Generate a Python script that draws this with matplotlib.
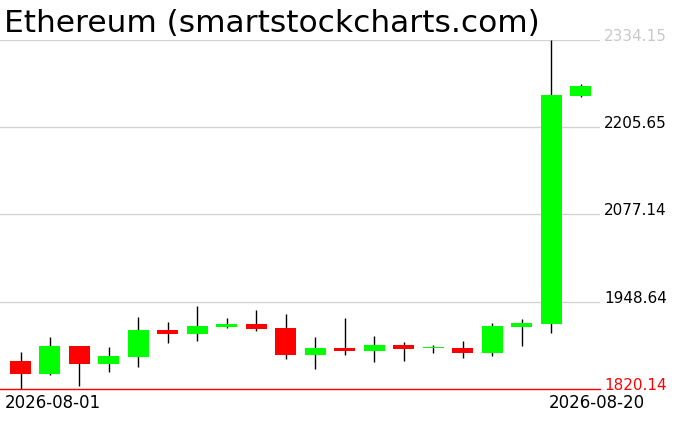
import matplotlib
matplotlib.use('Agg')
import matplotlib.pyplot as plt
import matplotlib.transforms as mtrans
import numpy as np

# ── 数据 ──────────────────────────────────────────────
dates = ['2026-08-%02d' % d for d in range(1, 21)]
opens = [1861.4, 1842.2, 1883.5, 1856.9, 1867.3, 1907.0, 1901.1, 1911.5, 1915.9, 1910.0,
         1870.2, 1880.5, 1876.1, 1884.9, 1879.9, 1880.5, 1873.2, 1911.5, 1915.9, 2251.6]
highs = [1874.6, 1896.7, 1884.0, 1882.0, 1926.2, 1918.8, 1942.4, 1924.7, 1936.5, 1930.6,
         1896.7, 1924.7, 1898.2, 1889.4, 1884.9, 1890.8, 1917.3, 1923.2, 2334.15, 2269.3]
lows = [1820.14, 1840.8, 1824.6, 1845.2, 1852.5, 1887.9, 1890.8, 1910.0, 1905.6, 1864.3,
        1849.6, 1870.2, 1859.9, 1861.4, 1873.2, 1865.8, 1868.7, 1883.5, 1903.1, 2250.2]
closes = [1842.2, 1883.5, 1856.9, 1868.7, 1907.0, 1901.1, 1912.9, 1915.9, 1908.5, 1870.2,
          1880.5, 1876.1, 1884.9, 1879.0, 1880.9, 1873.2, 1912.9, 1917.3, 2253.1, 2266.4]
y_ticks = [1820.14, 1948.64, 2077.14, 2205.65, 2334.15]
y_labels = ['1820.14', '1948.64', '2077.14', '2205.65', '2334.15']
x_labels = [dates[0], dates[-1]]

W, H = 676, 431
fig = plt.figure(figsize=(W / 100, H / 100), dpi=100)
fig.patch.set_facecolor('white')

# 绘图区：x 0..600 px，y 40.7..390 px
top_px, bot_px = 40.7, 390.0
ax = fig.add_axes([0, (H - bot_px) / H, 600 / W, (bot_px - top_px) / H])
ax.axis('off')
ax.set_xlim(-0.696, 19.66)
ax.set_ylim(y_ticks[0], y_ticks[-1])

# 网格线
for v in y_ticks[1:]:
    ax.axhline(v, color='#d3d3d3', lw=1, zorder=0)
ax.axhline(y_ticks[0], color='#ff0000', lw=1, zorder=1, clip_on=False)

# 蜡烛
x = np.arange(len(dates))
o = np.array(opens); c = np.array(closes)
up = c >= o
ax.vlines(x, lows, highs, color='black', lw=1, zorder=2)
bottom = np.minimum(o, c)
height = np.maximum(np.abs(c - o), 2.0)
ax.bar(x[up], height[up], bottom=bottom[up], width=0.713, color='#00ff00',
       edgecolor='none', zorder=3, antialiased=False)
ax.bar(x[~up], height[~up], bottom=bottom[~up], width=0.713, color='#ff0000',
       edgecolor='none', zorder=3, antialiased=False)

font = 'DejaVu Sans'

# 右侧价格标签
tr = mtrans.blended_transform_factory(fig.transFigure, ax.transData)
label_colors = ['#ff0000', 'black', 'black', 'black', '#c8c8c8']
for v, s, col in zip(y_ticks, y_labels, label_colors):
    ax.text(604 / W, v, s, transform=tr, ha='left', va='baseline', fontsize=11,
            color=col, family=font, clip_on=False)

# 日期标签
fig.text(5 / W, 1 - 394 / H, x_labels[0], ha='left', va='top', fontsize=12,
         family=font, color='black')
fig.text(645 / W, 1 - 394 / H, x_labels[1], ha='right', va='top', fontsize=12,
         family=font, color='black')

# 标题
fig.text(4 / W, 1 - 32 / H, 'Ethereum (smartstockcharts.com)', ha='left', va='baseline',
         fontsize=22.5, family=font, color='black')

fig.savefig('out.png', dpi=100, facecolor='white')
